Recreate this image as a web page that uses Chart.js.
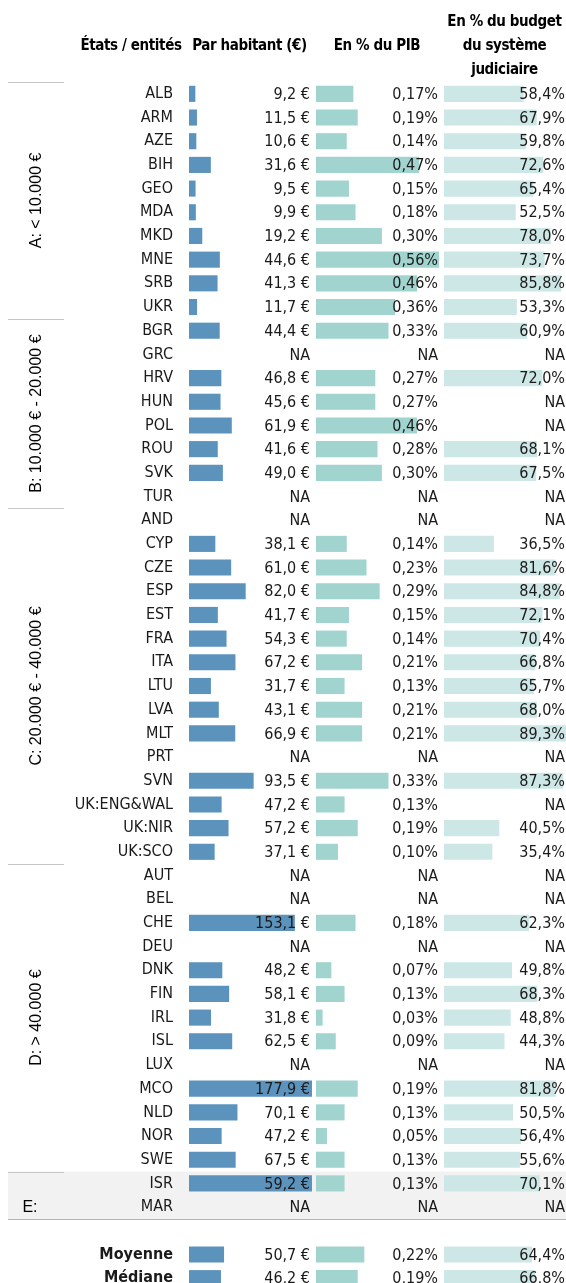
<!DOCTYPE html>
<html lang="fr">
<head>
<meta charset="utf-8">
<title>Budget du ministère public</title>
<script src="https://cdn.jsdelivr.net/npm/chart.js@4.4.1/dist/chart.umd.min.js"></script>
<style>
  html, body { margin: 0; padding: 0; background: #fff; height: 1283px; overflow: hidden; }
  #wrap { position: relative; width: 566px; height: 1290px; }
</style>
</head>
<body>
<div id="wrap"><canvas id="budgetChart"></canvas></div>
<script>
var countries = ['ALB','ARM','AZE','BIH','GEO','MDA','MKD','MNE','SRB','UKR',
  'BGR','GRC','HRV','HUN','POL','ROU','SVK','TUR',
  'AND','CYP','CZE','ESP','EST','FRA','ITA','LTU','LVA','MLT','PRT','SVN','UK:ENG&WAL','UK:NIR','UK:SCO',
  'AUT','BEL','CHE','DEU','DNK','FIN','IRL','ISL','LUX','MCO','NLD','NOR','SWE',
  'ISR','MAR'];

var groupNames = ['A: < 10.000 €', 'B: 10.000 € - 20.000 €', 'C: 20.000 € - 40.000 €', 'D: > 40.000 €', 'E:'];
var groupSizes = [10, 8, 15, 13, 2];

// € per inhabitant (null = NA)
var perCapita = [9.2, 11.5, 10.6, 31.6, 9.5, 9.9, 19.2, 44.6, 41.3, 11.7,
  44.4, null, 46.8, 45.6, 61.9, 41.6, 49.0, null,
  null, 38.1, 61.0, 82.0, 41.7, 54.3, 67.2, 31.7, 43.1, 66.9, null, 93.5, 47.2, 57.2, 37.1,
  null, null, 153.1, null, 48.2, 58.1, 31.8, 62.5, null, 177.9, 70.1, 47.2, 67.5,
  59.2, null];

// % of GDP
var pctGdp = [0.17, 0.19, 0.14, 0.47, 0.15, 0.18, 0.30, 0.56, 0.46, 0.36,
  0.33, null, 0.27, 0.27, 0.46, 0.28, 0.30, null,
  null, 0.14, 0.23, 0.29, 0.15, 0.14, 0.21, 0.13, 0.21, 0.21, null, 0.33, 0.13, 0.19, 0.10,
  null, null, 0.18, null, 0.07, 0.13, 0.03, 0.09, null, 0.19, 0.13, 0.05, 0.13,
  0.13, null];

// % of the judicial system budget
var pctBudget = [58.4, 67.9, 59.8, 72.6, 65.4, 52.5, 78.0, 73.7, 85.8, 53.3,
  60.9, null, 72.0, null, null, 68.1, 67.5, null,
  null, 36.5, 81.6, 84.8, 72.1, 70.4, 66.8, 65.7, 68.0, 89.3, null, 87.3, null, 40.5, 35.4,
  null, null, 62.3, null, 49.8, 68.3, 48.8, 44.3, null, 81.8, 50.5, 56.4, 55.6,
  70.1, null];

var summaryLabels = ['Moyenne', 'Médiane'];
var summaryPerCapita = [50.7, 46.2];
var summaryGdp = [0.22, 0.19];
var summaryBudget = [64.4, 66.8];

// the ISR bar is drawn as long as the MCO one in the source picture
var barAsDrawn = { 'ISR': 177.9 };

// --- layout ---
var FONT = "'Liberation Sans Narrow', 'Arial Narrow', 'DejaVu Sans Condensed', sans-serif";
var GROUP_FONT = "'Liberation Sans', Arial, sans-serif";
var AREA_LEFT = 181, AREA_RIGHT = 566;
var colStart = [189, 316, 444];
var colWidth = [123, 123, 122];

var rows = countries.concat([''], summaryLabels);
var summaryStart = countries.length + 1;
var allPerCapita = perCapita.concat([null], summaryPerCapita);
var allGdp = pctGdp.concat([null], summaryGdp);
var allBudget = pctBudget.concat([null], summaryBudget);
var perCapitaBars = allPerCapita.map(function (v, i) {
  return barAsDrawn[rows[i]] !== undefined ? barAsDrawn[rows[i]] : v;
});

function maxOf(list) {
  return Math.max.apply(null, list.filter(function (v) { return v !== null; }));
}
var colMax = [maxOf(perCapita), maxOf(pctGdp), maxOf(pctBudget)];

function axisRange(c) {
  var perPx = colMax[c] / colWidth[c];
  return { min: (AREA_LEFT - colStart[c]) * perPx, max: (AREA_RIGHT - colStart[c]) * perPx };
}
var r1 = axisRange(0), r2 = axisRange(1), r3 = axisRange(2);

function fmtEuro(v) { return v.toFixed(1).replace('.', ',') + ' €'; }
function fmtGdp(v) { return v.toFixed(2).replace('.', ',') + '%'; }
function fmtBudget(v) { return v.toFixed(1).replace('.', ',') + '%'; }

var tablePlugin = {
  id: 'tableDecor',
  beforeDraw: function (chart) {
    // grey band behind the last group, under the axis labels
    var ctx = chart.ctx, y = chart.scales.y;
    var half = (y.getPixelForValue(1) - y.getPixelForValue(0)) / 2;
    var eStart = countries.length - groupSizes[4];
    var bTop = y.getPixelForValue(eStart) - half;
    var bBot = y.getPixelForValue(countries.length - 1) + half;
    ctx.save();
    ctx.fillStyle = '#f2f2f2';
    ctx.fillRect(8, bTop, chart.width - 8, bBot - bTop);
    ctx.restore();
  },
  beforeDatasetsDraw: function (chart) {
    var ctx = chart.ctx, y = chart.scales.y;
    var half = (y.getPixelForValue(1) - y.getPixelForValue(0)) / 2;
    ctx.save();
    ctx.strokeStyle = '#c6c6c6';
    ctx.lineWidth = 1;
    ctx.fillStyle = '#000';
    ctx.font = '16px ' + GROUP_FONT;
    var start = 0;
    for (var g = 0; g < groupSizes.length; g++) {
      var top = Math.round(y.getPixelForValue(start) - half) + 0.5;
      ctx.beginPath(); ctx.moveTo(8, top); ctx.lineTo(64, top); ctx.stroke();
      var last = start + groupSizes[g] - 1;
      ctx.textAlign = 'center';
      ctx.textBaseline = 'middle';
      if (groupSizes[g] > 2) {
        var mid = (y.getPixelForValue(start) + y.getPixelForValue(last)) / 2;
        ctx.save();
        ctx.translate(37, mid);
        ctx.rotate(-Math.PI / 2);
        ctx.fillText(groupNames[g], 0, 0);
        ctx.restore();
      } else {
        ctx.fillText(groupNames[g], 30, y.getPixelForValue(last));
      }
      start += groupSizes[g];
    }
    var bottom = Math.round(y.getPixelForValue(countries.length - 1) + half) + 0.5;
    ctx.strokeStyle = '#b4b4b4';
    ctx.beginPath(); ctx.moveTo(8, bottom); ctx.lineTo(chart.width, bottom); ctx.stroke();
    ctx.restore();
  },
  afterDatasetsDraw: function (chart) {
    var ctx = chart.ctx, y = chart.scales.y;
    var ends = [chart.scales.x1.getPixelForValue(colMax[0]) - 2,
                chart.scales.x2.getPixelForValue(colMax[1]) - 1,
                chart.width - 1];
    ctx.save();
    ctx.fillStyle = '#1a1a1a';
    ctx.font = '16px ' + FONT;
    ctx.textAlign = 'right';
    ctx.textBaseline = 'middle';
    for (var i = 0; i < rows.length; i++) {
      if (rows[i] === '') continue;
      var py = y.getPixelForValue(i) + 1;
      ctx.fillText(allPerCapita[i] === null ? 'NA' : fmtEuro(allPerCapita[i]), ends[0], py);
      ctx.fillText(allGdp[i] === null ? 'NA' : fmtGdp(allGdp[i]), ends[1], py);
      ctx.fillText(allBudget[i] === null ? 'NA' : fmtBudget(allBudget[i]), ends[2], py);
    }
    // column headers
    ctx.font = 'bold 15px ' + FONT;
    ctx.letterSpacing = '-0.4px';
    ctx.fillStyle = '#000';
    ctx.textAlign = 'center';
    var c1 = (colStart[0] + ends[0]) / 2;
    var c2 = (colStart[1] + ends[1]) / 2;
    var c3 = (colStart[2] + ends[2]) / 2;
    ctx.fillText('États / entités', 131, 46);
    ctx.fillText('Par habitant (€)', c1, 46);
    ctx.fillText('En % du PIB', c2, 46);
    ctx.fillText('En % du budget', c3, 22);
    ctx.fillText('du système', c3, 46);
    ctx.fillText('judiciaire', c3, 70);
    ctx.restore();
  }
};

var chart = new Chart(document.getElementById('budgetChart'), {
  type: 'bar',
  data: {
    labels: rows,
    datasets: [
      { label: 'Par habitant (€)', data: perCapitaBars, xAxisID: 'x1', backgroundColor: '#5b93bc' },
      { label: 'En % du PIB', data: allGdp, xAxisID: 'x2', backgroundColor: '#a1d4cf' },
      { label: 'En % du budget du système judiciaire', data: allBudget, xAxisID: 'x3', backgroundColor: '#cde7e6' }
    ]
  },
  options: {
    indexAxis: 'y',
    responsive: true,
    maintainAspectRatio: false,
    animation: false,
    layout: { padding: { top: 82, bottom: 0, left: 0, right: 0 } },
    datasets: {
      bar: { grouped: false, barPercentage: 0.68, categoryPercentage: 1, borderWidth: 0 }
    },
    plugins: { legend: { display: false }, tooltip: { enabled: false } },
    scales: {
      y: {
        type: 'category',
        grid: { display: false, drawTicks: false },
        border: { display: false },
        afterFit: function (scale) {
          scale.width = AREA_LEFT;
          scale.paddingTop = 0;
          scale.paddingBottom = 0;
        },
        ticks: {
          autoSkip: false,
          padding: 8,
          color: '#1a1a1a',
          font: function (c) {
            return { family: FONT, size: 16, weight: c.index >= summaryStart ? 'bold' : 'normal' };
          }
        }
      },
      x1: { type: 'linear', display: false, min: r1.min, max: r1.max },
      x2: { type: 'linear', display: false, min: r2.min, max: r2.max },
      x3: { type: 'linear', display: false, min: r3.min, max: r3.max }
    }
  },
  plugins: [tablePlugin]
});
</script>
</body>
</html>
